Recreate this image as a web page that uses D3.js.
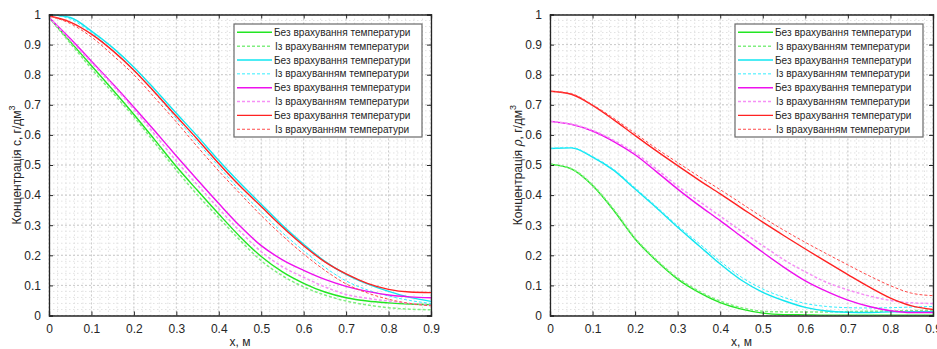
<!DOCTYPE html>
<html>
<head>
<meta charset="utf-8">
<script src="https://cdn.jsdelivr.net/npm/d3@7"></script>
<style>
  body { margin:0; background:#fff; }
  svg { display:block; font-family:"Liberation Sans", Arial, sans-serif; }
</style>
</head>
<body>
<div id="chart"></div>
<script>
// x positions the curves were read at
const xs = [0,0.05,0.1,0.15,0.2,0.25,0.3,0.35,0.4,0.45,0.5,0.55,0.6,0.65,0.7,0.75,0.8,0.85,0.9];
const xTicks = [0,0.1,0.2,0.3,0.4,0.5,0.6,0.7,0.8,0.9];
const yTicks = [0,0.1,0.2,0.3,0.4,0.5,0.6,0.7,0.8,0.9,1];
const legendNames = ["Без врахування температури","Із врахуванням температури"];

// left panel: concentration c
const cGreen     = [0.99,0.91,0.83,0.75,0.668,0.582,0.495,0.415,0.337,0.262,0.196,0.145,0.107,0.078,0.059,0.048,0.042,0.038,0.036];
const cGreenT    = [0.99,0.905,0.82,0.74,0.66,0.572,0.483,0.40,0.325,0.25,0.182,0.132,0.095,0.068,0.048,0.035,0.026,0.021,0.019];
const cCyan      = [1.0,0.99,0.945,0.89,0.825,0.75,0.672,0.595,0.515,0.44,0.37,0.30,0.237,0.18,0.137,0.105,0.08,0.06,0.047];
const cCyanT     = [1.0,0.985,0.94,0.88,0.815,0.738,0.655,0.575,0.495,0.415,0.345,0.275,0.215,0.16,0.115,0.085,0.065,0.05,0.04];
const cMagenta   = [0.99,0.92,0.845,0.77,0.692,0.612,0.53,0.45,0.372,0.297,0.232,0.185,0.15,0.12,0.097,0.08,0.068,0.062,0.059];
const cMagentaT  = [0.99,0.915,0.84,0.765,0.685,0.60,0.513,0.433,0.355,0.28,0.212,0.162,0.127,0.095,0.07,0.057,0.048,0.04,0.034];
const cRed       = [0.995,0.975,0.935,0.88,0.815,0.74,0.662,0.585,0.505,0.43,0.362,0.294,0.232,0.178,0.138,0.107,0.087,0.078,0.076];
const cRedT      = [0.995,0.97,0.925,0.865,0.80,0.722,0.643,0.56,0.48,0.405,0.332,0.265,0.204,0.15,0.105,0.075,0.054,0.04,0.032];

// right panel: concentration rho
const rGreen     = [0.503,0.487,0.432,0.349,0.254,0.182,0.121,0.077,0.043,0.021,0.008,0.003,0.002,0.001,0.001,0.001,0.001,0.001,0.001];
const rGreenT    = [0.503,0.488,0.434,0.352,0.257,0.185,0.125,0.081,0.048,0.026,0.014,0.012,0.012,0.012,0.013,0.014,0.015,0.016,0.018];
const rCyan      = [0.555,0.557,0.526,0.482,0.42,0.358,0.293,0.232,0.171,0.117,0.077,0.049,0.027,0.015,0.011,0.01,0.012,0.013,0.013];
const rCyanT     = [0.555,0.558,0.528,0.485,0.424,0.362,0.298,0.24,0.18,0.127,0.088,0.06,0.04,0.03,0.026,0.025,0.026,0.028,0.03];
const rMagenta   = [0.645,0.635,0.613,0.578,0.534,0.478,0.42,0.366,0.315,0.262,0.21,0.16,0.115,0.08,0.051,0.03,0.016,0.01,0.01];
const rMagentaT  = [0.645,0.636,0.615,0.582,0.54,0.487,0.43,0.38,0.33,0.28,0.232,0.185,0.145,0.11,0.085,0.065,0.05,0.042,0.04];
const rRed       = [0.745,0.735,0.698,0.65,0.598,0.547,0.498,0.45,0.404,0.357,0.31,0.265,0.221,0.178,0.136,0.095,0.058,0.032,0.02];
const rRedT      = [0.745,0.737,0.70,0.655,0.605,0.555,0.508,0.462,0.418,0.372,0.326,0.283,0.243,0.205,0.168,0.132,0.099,0.074,0.066];

const colors     = ["#22e622","#11e6f0","#ee11ee","#ff2222"];
const dashColors = ["#80ee80","#33eeff","#f590f5","#ff4a4a"];
const dashWidths = [1.5,1,1.5,1];

function makeSeries(arrs){
  return arrs.map((vals,i)=>{
    let k = Math.floor(i/2), dashed = i%2==1;
    return {
      name: legendNames[i%2],
      color: dashed ? dashColors[k] : colors[k],
      width: dashed ? dashWidths[k] : 1.4,
      dashed: dashed,
      points: xs.map((x,j)=>({x:x, y:vals[j]}))
    };
  });
}

const leftSeries  = makeSeries([cGreen,cGreenT,cCyan,cCyanT,cMagenta,cMagentaT,cRed,cRedT]);
const rightSeries = makeSeries([rGreen,rGreenT,rCyan,rCyanT,rMagenta,rMagentaT,rRed,rRedT]);

const W = 937, H = 349;
const svg = d3.select("#chart").append("svg").attr("width",W).attr("height",H);

function drawPanel(opts){
  const left=opts.left, top=14.5, w=opts.width, h=301;
  const g = svg.append("g").attr("transform","translate("+left+","+top+")");
  const x = d3.scaleLinear().domain([0,0.9]).range([0,w]);
  const y = d3.scaleLinear().domain([0,1]).range([h,0]);

  // minor grid (0.02 steps)
  g.append("g").selectAll("line").data(d3.range(0,46).map(i=>i*0.02)).enter().append("line")
    .attr("x1",d=>x(d)).attr("x2",d=>x(d)).attr("y1",0).attr("y2",h)
    .attr("stroke","#e2e2e2").attr("stroke-dasharray","1.5,2.5");
  g.append("g").selectAll("line").data(d3.range(0,51).map(i=>i*0.02)).enter().append("line")
    .attr("y1",d=>y(d)).attr("y2",d=>y(d)).attr("x1",0).attr("x2",w)
    .attr("stroke","#e2e2e2").attr("stroke-dasharray","1.5,2.5");
  // major grid
  g.append("g").selectAll("line").data(xTicks).enter().append("line")
    .attr("x1",d=>x(d)).attr("x2",d=>x(d)).attr("y1",0).attr("y2",h)
    .attr("stroke","#cccccc").attr("stroke-dasharray","2,2");
  g.append("g").selectAll("line").data(yTicks).enter().append("line")
    .attr("y1",d=>y(d)).attr("y2",d=>y(d)).attr("x1",0).attr("x2",w)
    .attr("stroke","#cccccc").attr("stroke-dasharray","2,2");

  // curves
  const clipId = "clip"+opts.id;
  g.append("clipPath").attr("id",clipId).append("rect").attr("width",w).attr("height",h);
  const line = d3.line().curve(d3.curveMonotoneX).x(d=>x(d.x)).y(d=>y(d.y));
  g.append("g").attr("clip-path","url(#"+clipId+")")
    .selectAll("path").data(opts.series).enter().append("path")
    .attr("d",d=>line(d.points))
    .attr("fill","none")
    .attr("stroke",d=>d.color)
    .attr("stroke-width",d=>d.width)
    .attr("stroke-dasharray",d=>d.dashed?"3,2":null);

  // axes with inward ticks on all four sides
  const axColor="#262626";
  g.append("g").attr("transform","translate(0,"+h+")")
    .call(d3.axisBottom(x).tickValues(xTicks).tickSize(-4).tickPadding(9).tickFormat(d3.format("")));
  g.append("g")
    .call(d3.axisLeft(y).tickValues(yTicks).tickSize(-4).tickPadding(8).tickFormat(d3.format("")));
  g.append("g").call(d3.axisTop(x).tickValues(xTicks).tickSize(-4).tickFormat(""));
  g.append("g").attr("transform","translate("+w+",0)")
    .call(d3.axisRight(y).tickValues(yTicks).tickSize(-4).tickFormat(""));
  g.selectAll(".domain").attr("stroke",axColor).attr("stroke-width",1.3);
  g.selectAll(".tick line").attr("stroke",axColor);
  g.selectAll(".tick text").attr("fill",axColor).style("font-size","12px")
    .style("font-family","'Liberation Sans', Arial, sans-serif");

  // axis labels
  g.append("text").attr("x",w/2).attr("y",h+30).attr("text-anchor","middle")
    .attr("fill",axColor).style("font-size","12px").text("x, м");
  const yl = g.append("text")
    .attr("transform","translate("+(opts.ylabelX-left)+","+(h/2)+") rotate(-90)")
    .attr("text-anchor","middle").attr("fill",axColor).style("font-size","12px");
  yl.append("tspan").text("Концентрація ");
  yl.append("tspan").style("font-style",opts.symItalic?"italic":"normal")
    .style("font-family",opts.symItalic?"'DejaVu Serif', serif":null).text(opts.sym);
  yl.append("tspan").text(", г/дм");
  yl.append("tspan").attr("dy",-6).style("font-size","9px").text("3");

  // legend
  const lx = opts.legendLeft-left, ly = 24-top, lw = 188, rowH = 13.85;
  const lg = g.append("g").attr("transform","translate("+lx+","+ly+")");
  lg.append("rect").attr("width",lw).attr("height",113)
    .attr("fill","#fff").attr("stroke","#6a6a6a").attr("stroke-width",1.2);
  const rows = lg.selectAll("g.row").data(opts.series).enter().append("g")
    .attr("class","row")
    .attr("transform",(d,i)=>"translate(0,"+(8.3+i*rowH)+")");
  rows.append("line").attr("x1",3).attr("x2",38).attr("y1",0).attr("y2",0)
    .attr("stroke",d=>d.color)
    .attr("stroke-width",d=>d.width)
    .attr("stroke-dasharray",d=>d.dashed?"3,2":null);
  rows.append("text").attr("x",d=>d.dashed?41:40).attr("y",3.6)
    .attr("fill","#262626").style("font-size","10.1px").text(d=>d.name);
}

drawPanel({id:"L", left:49, width:382, series:leftSeries, ylabelX:21, sym:"c", symItalic:false, legendLeft:234});
drawPanel({id:"R", left:550, width:383, series:rightSeries, ylabelX:522, sym:"ρ", symItalic:true, legendLeft:735});
</script>
</body>
</html>
